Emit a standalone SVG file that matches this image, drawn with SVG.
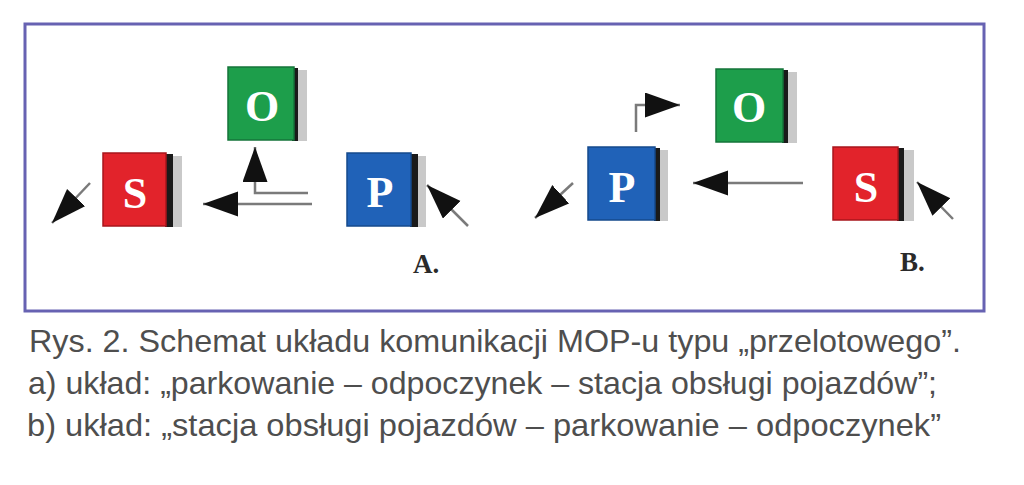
<svg xmlns="http://www.w3.org/2000/svg" width="1024" height="485" viewBox="0 0 1024 485">
<style>
.shadow{fill:#c9c9c9}
.edge{fill:#1a1a1a}
.green{fill:#1d9e4b;stroke:#14743a;stroke-width:1.5}
.red{fill:#e2232b;stroke:#a8161c;stroke-width:1.5}
.blue{fill:#2062b8;stroke:#154a8c;stroke-width:1.5}
.let{font-family:"Liberation Serif",serif;font-weight:bold;font-size:44px;fill:#ffffff;text-anchor:middle}
.lab{font-family:"Liberation Serif",serif;font-weight:bold;font-size:27px;fill:#2a2a2a}
.cap{font-family:"Liberation Sans",Arial,sans-serif;font-size:32px;fill:#4e4e4e}
.ln{fill:none;stroke:#7a7a7a;stroke-width:2.5;marker-end:url(#ah)}
</style>
<defs>
<marker id="ah" markerUnits="userSpaceOnUse" markerWidth="36" markerHeight="26" refX="35" refY="12.5" orient="auto" viewBox="0 0 36 26">
<path d="M0,0 L35,12.5 L0,25 z" fill="#111"/>
</marker>
</defs>
<rect x="0" y="0" width="1024" height="485" fill="#ffffff"/>
<rect id="frame" x="25" y="24" width="959" height="287" fill="#ffffff" stroke="#6762b2" stroke-width="3"/>

<g id="A-O">
<rect class="shadow" x="296" y="70" width="11" height="71"/>
<rect class="edge" x="292" y="68" width="6" height="73"/>
<rect class="green" x="228" y="67" width="66" height="73"/>
<text class="let" x="262" y="121">O</text>
</g>
<g id="A-S">
<rect class="shadow" x="170" y="156" width="12" height="71"/>
<rect class="edge" x="165" y="154" width="8" height="73"/>
<rect class="red" x="103" y="153" width="63" height="73"/>
<text class="let" x="135" y="208">S</text>
</g>
<g id="A-P">
<rect class="shadow" x="416" y="156" width="10" height="71"/>
<rect class="edge" x="410" y="154" width="8" height="73"/>
<rect class="blue" x="347" y="153" width="64" height="73"/>
<text class="let" x="380" y="207">P</text>
</g>
<text id="label-A" class="lab" x="413" y="273">A.</text>

<g id="B-O">
<rect class="shadow" x="786" y="72" width="11" height="71"/>
<rect class="edge" x="782" y="70" width="6" height="73"/>
<rect class="green" x="716" y="69" width="67" height="73"/>
<text class="let" x="749" y="122">O</text>
</g>
<g id="B-P">
<rect class="shadow" x="658" y="150" width="10" height="71"/>
<rect class="edge" x="654" y="148" width="6" height="73"/>
<rect class="blue" x="588" y="147" width="67" height="73"/>
<text class="let" x="622" y="202">P</text>
</g>
<g id="B-S">
<rect class="shadow" x="902" y="150" width="12" height="71"/>
<rect class="edge" x="897" y="148" width="7" height="73"/>
<rect class="red" x="833" y="147" width="65" height="73"/>
<text class="let" x="866" y="202">S</text>
</g>
<text id="label-B" class="lab" x="900" y="271">B.</text>

<g id="connectors">
<path class="ln" d="M90,183 L52,223"/>
<path class="ln" d="M468,226 L427,185"/>
<path class="ln" d="M308,193 L255,193 L255,147"/>
<path class="ln" d="M312,204 L203,204"/>
<path class="ln" d="M803,183 L693,183"/>
<path class="ln" d="M636,132 L636,105 L680,105"/>
<path class="ln" d="M573,183 L535,218"/>
<path class="ln" d="M953,219 L917,182"/>
</g>

<g id="caption">
<text class="cap" x="29" y="352" textLength="932" lengthAdjust="spacingAndGlyphs">Rys. 2. Schemat układu komunikacji MOP-u typu „przelotowego”.</text>
<text class="cap" x="28" y="394" textLength="909" lengthAdjust="spacingAndGlyphs">a) układ: „parkowanie – odpoczynek – stacja obsługi pojazdów”;</text>
<text class="cap" x="27" y="436" textLength="914" lengthAdjust="spacingAndGlyphs">b) układ: „stacja obsługi pojazdów – parkowanie – odpoczynek”</text>
</g>
</svg>
